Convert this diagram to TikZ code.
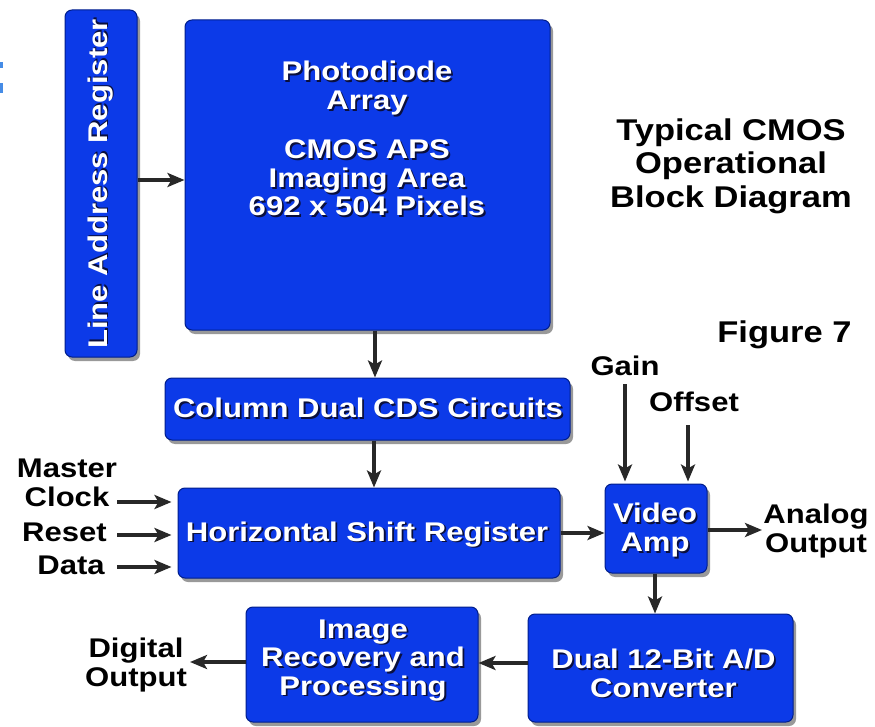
\documentclass[tikz,border=0pt]{standalone}
\usepackage{fontspec}
\setmainfont{Liberation Sans}[FakeStretch=1.15]
\usetikzlibrary{arrows.meta,shadows}
\definecolor{boxblue}{RGB}{12,58,232}
\definecolor{boxedge}{RGB}{0,30,140}
\definecolor{txtsh}{RGB}{10,15,60}
\definecolor{arrc}{RGB}{40,40,40}
\definecolor{frag}{RGB}{70,140,230}
\newcommand\sh[1]{\leavevmode\rlap{\kern1.8pt\raisebox{-1.8pt}{\textcolor{txtsh}{#1}}}#1}
\begin{document}
\begin{tikzpicture}[x=1pt,y=-1pt,
 blk/.style={draw=boxedge,line width=1pt,fill=boxblue,rounded corners=7pt,inner sep=0pt,
   drop shadow={shadow xshift=3pt,shadow yshift=-4pt,opacity=0.4,fill=black}},
 wtext/.style={font=\fontsize{27}{28.5}\selectfont\bfseries,align=center,inner sep=0pt,text=white},
 btext/.style={font=\fontsize{27}{29}\selectfont\bfseries,align=center,inner sep=0pt,text=black},
 ttext/.style={font=\fontsize{30}{33.5}\selectfont\bfseries,align=center,inner sep=0pt,text=black},
 arr/.style={draw=arrc,line width=4pt,-{Stealth[length=17pt,width=14pt,inset=4pt]}}]
\fill[white] (0,0) rectangle (875,727);
\useasboundingbox (0,0) rectangle (875,727);
\fill[frag] (0,62) rectangle (3,68);
\fill[frag] (0,83) rectangle (3,93);

% boxes
\node[blk,minimum width=72pt,minimum height=347pt] (lar) at (101,183.5) {};
\node[blk,minimum width=365pt,minimum height=310pt] (pda) at (367.5,175) {};
\node[blk,minimum width=405pt,minimum height=62pt] (cds) at (367.5,409) {};
\node[blk,minimum width=382pt,minimum height=90pt] (hsr) at (369,533) {};
\node[blk,minimum width=102pt,minimum height=89pt] (va) at (656,528.5) {};
\node[blk,minimum width=265pt,minimum height=108pt] (adc) at (660.5,668) {};
\node[blk,minimum width=232pt,minimum height=115pt] (irp) at (362,664.5) {};

% white labels
\node[wtext,rotate=90] (larl) at (101,184) {\sh{Line Address Register}};
\node[wtext] (pda1) at (367,89) {\sh{Photodiode}\\\sh{Array}};
\node[wtext] (pda2) at (367,179) {\sh{CMOS APS}\\\sh{Imaging Area}\\\sh{692 x 504 Pixels}};
\node[wtext] (cdsl) at (368,409) {\sh{Column Dual CDS Circuits}};
\node[wtext] (hsrl) at (367,535) {\sh{Horizontal Shift Register}};
\node[wtext] (val) at (655,531) {\sh{Video}\\\sh{Amp}};
\node[wtext] (adcl) at (663.5,674) {\sh{Dual 12-Bit A/D}\\\sh{Converter}};
\node[wtext] (irpl) at (363,661) {\sh{Image}\\\sh{Recovery and}\\\sh{Processing}};

% black labels
\node[ttext] (title) at (731,166) {Typical CMOS\\Operational\\Block Diagram};
\node[ttext] (fig) at (784.5,335) {Figure 7};
\node[btext] (mc) at (67,483) {Master\\Clock};
\node[btext] (rst) at (64.5,532) {Reset};
\node[btext] (dat) at (71,565.5) {Data};
\node[btext] (gain) at (625,365.5) {Gain};
\node[btext] (off) at (694,402) {Offset};
\node[btext] (ana) at (816,531.5) {Analog\\Output};
\node[btext] (dig) at (136,665.5) {Digital\\Output};

% connector coordinates
\coordinate (mcs) at (117,502);
\coordinate (rsts) at (117,535);
\coordinate (dats) at (117,567);
\coordinate (gs) at (625,384);
\coordinate (os) at (688,425);
\coordinate (anae) at (762,530);
\coordinate (dige) at (190,662);

% arrows
\draw[arr] (lar.east |- 0,180) -- (pda.west |- 0,180);
\draw[arr] (pda.south -| 375,0) -- (cds.north -| 375,0);
\draw[arr] (cds.south -| 374,0) -- (hsr.north -| 374,0);
\draw[arr,shorten >=6pt] (mcs) -- (mcs -| hsr.west);
\draw[arr,shorten >=6pt] (rsts) -- (rsts -| hsr.west);
\draw[arr,shorten >=6pt] (dats) -- (dats -| hsr.west);
\draw[arr] (hsr.east |- 0,533) -- (va.west |- 0,533);
\draw[arr,shorten >=2pt] (gs) -- (gs |- va.north);
\draw[arr,shorten >=2pt] (os) -- (os |- va.north);
\draw[arr] (va.east |- anae) -- (anae);
\draw[arr] (va.south -| 655,0) -- (adc.north -| 655,0);
\draw[arr] (adc.west |- 0,663) -- (irp.east |- 0,663);
\draw[arr] (irp.west |- dige) -- (dige);
\end{tikzpicture}
\end{document}
